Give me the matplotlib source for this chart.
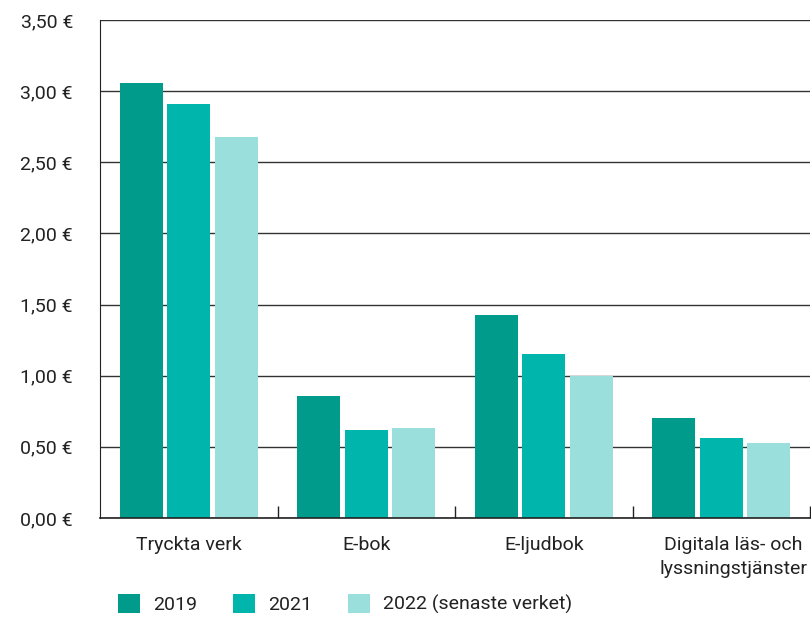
import numpy as np
import matplotlib.pyplot as plt
import matplotlib.transforms as mtransforms

categories = ['Tryckta verk', 'E-bok', 'E-ljudbok', 'Digitala läs- och\nlyssningstjänster']
years = ['2019', '2021', '2022 (senaste verket)']
v2019 = [3.06, 0.86, 1.43, 0.70]
v2021 = [2.91, 0.62, 1.15, 0.56]
v2022 = [2.68, 0.63, 1.00, 0.53]
yticks = [0, 0.5, 1.0, 1.5, 2.0, 2.5, 3.0, 3.5]
ytick_labels = ['0,00 €', '0,50 €', '1,00 €', '1,50 €', '2,00 €', '2,50 €', '3,00 €', '3,50 €']
colors = ['#009b8b', '#00b5ab', '#9adfdb']

plt.rcParams['font.family'] = ['Roboto', 'DejaVu Sans']
plt.rcParams['font.size'] = 14

fig = plt.figure(figsize=(8.11, 6.17), dpi=100)
ax = fig.add_axes([0.1233, 0.1605, 0.8755, 0.8071])

x = np.arange(len(categories))
offset = 0.268
width = 0.242
for i, vals in enumerate([v2019, v2021, v2022]):
    ax.bar(x + (i - 1) * offset, vals, width, color=colors[i], label=years[i], zorder=3)

ax.set_xlim(-0.5, len(categories) - 0.5)
ax.set_ylim(0, 3.5)
ax.set_yticks(yticks)
ax.set_yticklabels(ytick_labels, color='#222222')
ax.tick_params(axis='y', length=0, pad=19.5)
ax.yaxis.grid(True, color='#333333', linewidth=1, zorder=0)

ax.set_xticks(x)
ax.set_xticklabels(categories, color='#222222', linespacing=1.4, va='top')
ax.tick_params(axis='x', which='major', length=0, pad=13)
ax.set_xticks(np.arange(len(categories)) + 0.5, minor=True)
ax.tick_params(axis='x', which='minor', direction='in', length=8.5, width=1, color='#222222')

# shift last label to the right like the reference
lbl = ax.get_xticklabels()[-1]
lbl.set_transform(lbl.get_transform() + mtransforms.ScaledTranslation(0.12, 0, fig.dpi_scale_trans))

for s in ['top', 'right']:
    ax.spines[s].set_visible(False)
ax.spines['left'].set_color('#222222')
ax.spines['bottom'].set_color('#222222')
ax.spines['bottom'].set_linewidth(1.2)
ax.spines['bottom'].set_zorder(4)

fig.legend(loc='lower left', bbox_to_anchor=(0.1455, 0.005), ncol=3, frameon=False,
           borderpad=0, borderaxespad=0,
           handlelength=1.13, handleheight=1.13, handletextpad=0.67, columnspacing=1.85,
           labelcolor='#222222')

fig.savefig('out.png', dpi=100)
